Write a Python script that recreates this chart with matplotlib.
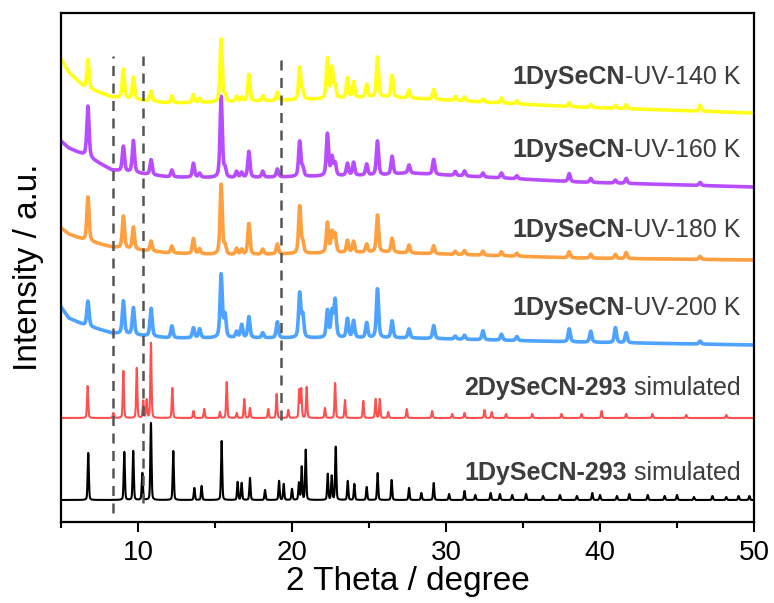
import matplotlib
matplotlib.use("Agg")
import matplotlib.pyplot as plt
import numpy as np

plt.rcParams['font.family'] = ['Liberation Sans', 'DejaVu Sans']

# 2-theta grid used to render every pattern
two_theta = np.linspace(5, 50, 9001)

# ---- 1DySeCN-293 simulated (black) ----
sim1_pos = [6.77, 9.11, 9.69, 10.28, 10.84, 12.29, 13.66, 14.13, 15.43, 16.47, 16.73,
            17.27, 18.25, 19.16, 19.46, 20.0, 20.45, 20.63, 20.89, 22.32, 22.58, 22.84,
            23.62, 24.05, 24.85, 25.56, 26.47, 27.6, 28.4, 29.2, 30.2, 31.2, 31.9, 32.9,
            33.5, 34.3, 35.2, 36.3, 37.4, 38.5, 39.5, 40.0, 41.1, 41.9, 43.1, 44.2,
            45.0, 46.1, 47.3, 48.2, 49.0, 49.7]
sim1_int = [47, 48, 49, 27, 77, 49, 12, 14, 59, 18, 17,
            22, 10, 19, 16, 11, 17, 33, 50, 26, 24, 53,
            19, 16, 13, 27, 20, 12, 7, 17, 6, 9, 5, 7,
            6, 5, 6, 4, 5, 4, 7, 5, 4, 6, 5, 4,
            5, 3, 4, 3, 4, 4]
sim1_base = 22

# ---- 2DySeCN-293 simulated (red) ----
sim2_pos = [6.73, 8.4, 9.05, 9.92, 10.34, 10.56, 10.84, 12.23, 13.6, 14.3, 15.32, 15.76,
            16.41, 16.9, 17.27, 18.46, 19.0, 19.76, 20.47, 20.6, 20.95, 22.14, 22.8,
            23.44, 24.63, 25.43, 25.7, 26.25, 27.45, 29.1, 30.4, 31.2, 32.5, 32.97,
            33.9, 35.6, 37.5, 38.8, 40.1, 41.7, 43.4, 45.6, 48.2]
sim2_int = [32, 5, 47, 50, 17, 18, 75, 30, 7, 9, 6, 36,
            5, 19, 10, 9, 24, 8, 28, 29, 31, 10, 35,
            18, 17, 19, 19, 6, 9, 7, 4, 5, 8, 6,
            4, 4, 4, 4, 7, 4, 4, 3, 3]
sim2_base = 104

# ---- experimental patterns after UV irradiation ----
exp_pos = [6.75, 9.05, 9.7, 10.85, 12.2, 13.6, 14.0, 15.4, 15.65, 16.4, 16.73, 17.2,
           18.1, 19.05, 20.5, 20.7, 22.3, 22.6, 22.8, 23.6, 24.0, 24.85, 25.55,
           26.5, 27.6, 29.2, 30.6, 31.2, 32.4, 33.6, 34.6, 38.0, 39.4, 41.0, 41.7,
           46.5]
uv200_int = [25, 33, 27, 28, 12, 10, 9, 63, 22, 6, 13, 21,
             5, 16, 44, 22, 27, 25, 37, 19, 17, 15, 49,
             17, 9, 13, 3, 4, 9, 6, 4, 13, 11, 15, 10,
             3]
uv180_int = [44, 32, 22, 10, 7, 15, 5, 70, 8, 6, 5, 31,
             5, 10, 47, 10, 30, 20, 18, 12, 11, 8, 37,
             14, 8, 8, 3, 4, 4, 4, 3, 6, 4, 4, 6,
             3]
uv160_int = [51, 25, 32, 15, 7, 14, 4, 81, 8, 6, 5, 26,
             6, 8, 35, 8, 42, 18, 12, 12, 13, 11, 34,
             18, 8, 15, 4, 5, 4, 5, 3, 8, 4, 3, 5,
             3]
uv140_int = [29, 29, 22, 10, 7, 8, 4, 63, 6, 5, 4, 27,
             5, 8, 32, 8, 40, 30, 12, 20, 16, 13, 40,
             22, 8, 10, 4, 4, 3, 5, 3, 4, 3, 3, 4,
             6]

# background levels of the measured curves
bg_x = [5.0, 5.5, 6.5, 8.3, 12.0, 16.0, 26.0, 27.5, 38.5, 50.0]
uv200_bg = [215, 204, 197, 189, 184, 184, 184, 184, 180, 177]
uv180_bg = [294, 288, 282, 275, 269, 267, 270, 269, 264, 262]
uv160_bg = [381, 374, 367, 352, 345, 344, 347, 349, 340, 335]
uv140_bg = [463, 450, 435, 425, 419, 420, 425, 424, 415, 409]

# reference positions (dashed guides) and where each guide stops
marker_lines = [8.4, 10.3, 19.3]
marker_bottom = [9, 19, 102]
marker_top = 466


def pattern(pos, heights, fwhm, eta):
    y = np.zeros_like(two_theta)
    for p, h in zip(pos, heights):
        u = (two_theta - p) / fwhm
        y += h * ((1 - eta) * np.exp(-4 * np.log(2) * u ** 2) + eta / (1 + 4 * u ** 2))
    return y


fig = plt.figure(figsize=(7.74, 6.03), dpi=100)
ax = fig.add_axes([61 / 774, 81 / 603, 693 / 774, 509 / 603])

curves = [
    (sim1_base + pattern(sim1_pos, sim1_int, 0.09, 0.3), 'black', 1.5),
    (sim2_base + pattern(sim2_pos, sim2_int, 0.09, 0.3), '#ff4f4f', 1.5),
    (np.interp(two_theta, bg_x, uv200_bg) + pattern(exp_pos, uv200_int, 0.17, 0.5), '#4da3ff', 2.6),
    (np.interp(two_theta, bg_x, uv180_bg) + pattern(exp_pos, uv180_int, 0.17, 0.5), '#ffa040', 2.6),
    (np.interp(two_theta, bg_x, uv160_bg) + pattern(exp_pos, uv160_int, 0.17, 0.5), '#b84dff', 2.6),
    (np.interp(two_theta, bg_x, uv140_bg) + pattern(exp_pos, uv140_int, 0.17, 0.5), '#ffff1a', 2.6),
]
for y, c, lw in curves:
    ax.plot(two_theta, y, color=c, lw=lw, zorder=2)

for xv, yb in zip(marker_lines, marker_bottom):
    ax.plot([xv, xv], [yb, marker_top], color='#555555', lw=1.8, ls=(0, (4, 3)), zorder=3)

# labels: bold sample name followed by regular suffix
labels = [
    ('1DySeCN', '-UV-140 K', 445),
    ('1DySeCN', '-UV-160 K', 372),
    ('1DySeCN', '-UV-180 K', 292),
    ('1DySeCN', '-UV-200 K', 214),
    ('2DySeCN-293', ' simulated', 134),
    ('1DySeCN-293', ' simulated', 49),
]
for bold, reg, yl in labels:
    t = ax.text(49.1, yl, reg, ha='right', va='center', fontsize=18, color='#3d3d3d')
    ax.annotate(bold, xy=(0, 0), xycoords=t, ha='right', va='bottom',
                fontsize=18, fontweight='bold', color='#3d3d3d')

ax.set_xlim(5, 50)
ax.set_ylim(0, 509)
ax.set_xticks([10, 20, 30, 40, 50])
ax.set_xticks([5, 15, 25, 35, 45], minor=True)
ax.set_yticks([])
ax.tick_params(axis='x', which='major', direction='out', length=7, width=1.5, labelsize=20, pad=6)
ax.tick_params(axis='x', which='minor', direction='out', length=4, width=1.5)
for s in ax.spines.values():
    s.set_linewidth(1.6)
ax.set_xlabel('2 Theta / degree', fontsize=24, labelpad=0)
ax.set_ylabel('Intensity / a.u.', fontsize=24, labelpad=12)

fig.savefig('out.png', dpi=100)
